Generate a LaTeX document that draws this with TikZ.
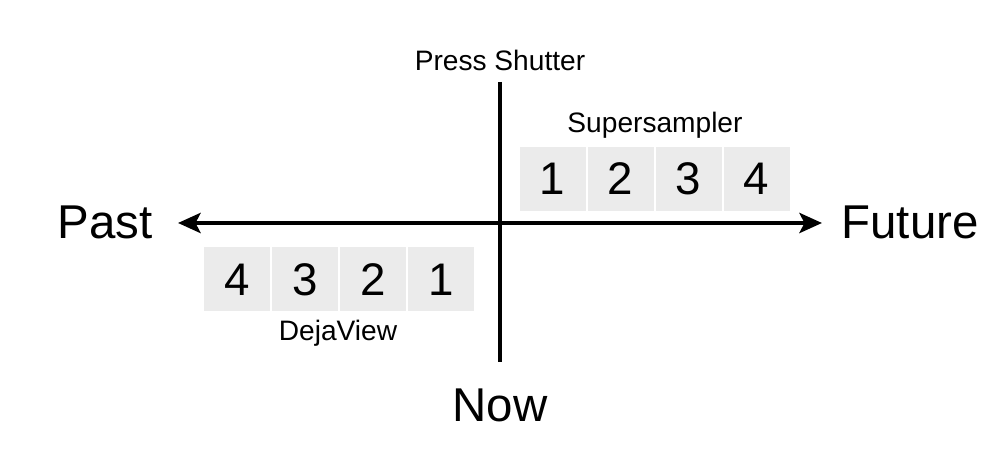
\documentclass[tikz,border=0pt]{standalone}
\usepackage{fontspec}
\setmainfont{Liberation Sans}
\usetikzlibrary{positioning,arrows.meta}
\definecolor{boxgray}{RGB}{235,235,235}

\begin{document}
\begin{tikzpicture}
    \tikzset{ frm/.style={fill=boxgray, draw=none, minimum width=1.32cm, minimum height=1.28cm, inner sep=0pt, font=\fontsize{26}{28}\selectfont} }
    \tikzset{ lbl/.style={font=\fontsize{16}{18}\selectfont} }
    \tikzset{ big/.style={font=\fontsize{27}{30}\selectfont} }
    \tikzset{ axis/.style={line width=2.8pt} }

    \useasboundingbox (0,0) rectangle (20,9.18);

    \coordinate (left)   at (3.56, 4.72);
    \coordinate (right)  at (16.44, 4.72);
    \coordinate (top)    at (10.0, 7.54);
    \coordinate (bottom) at (10.0, 1.94);

    \draw[axis, {Stealth[length=0.45cm, width=0.4cm, inset=0.1cm]}-{Stealth[length=0.45cm, width=0.4cm, inset=0.1cm]}] (left) -- (right);
    \draw[axis] (top) -- (bottom);

    \node[big] (past)    at (2.1, 4.74)  {Past};
    \node[big] (future)  at (18.2, 4.74) {Future};
    \node[big] (now)     at (10.0, 1.08) {Now};
    \node[lbl] (shutter) at (10.0, 7.98) {Press Shutter};

    % future frames
    \foreach \n [count=\i from 0] in {1,2,3,4}
        \node[frm] (s\n) at (11.05+1.36*\i, 5.6) {\n};
    % past frames
    \foreach \n [count=\i from 0] in {4,3,2,1}
        \node[frm] (d\n) at (4.74+1.36*\i, 3.59) {\n};

    \node[lbl] (super) at (13.1, 6.68) {Supersampler};
    \node[lbl] (deja)  at (6.76, 2.52) {DejaView};
\end{tikzpicture}
\end{document}
